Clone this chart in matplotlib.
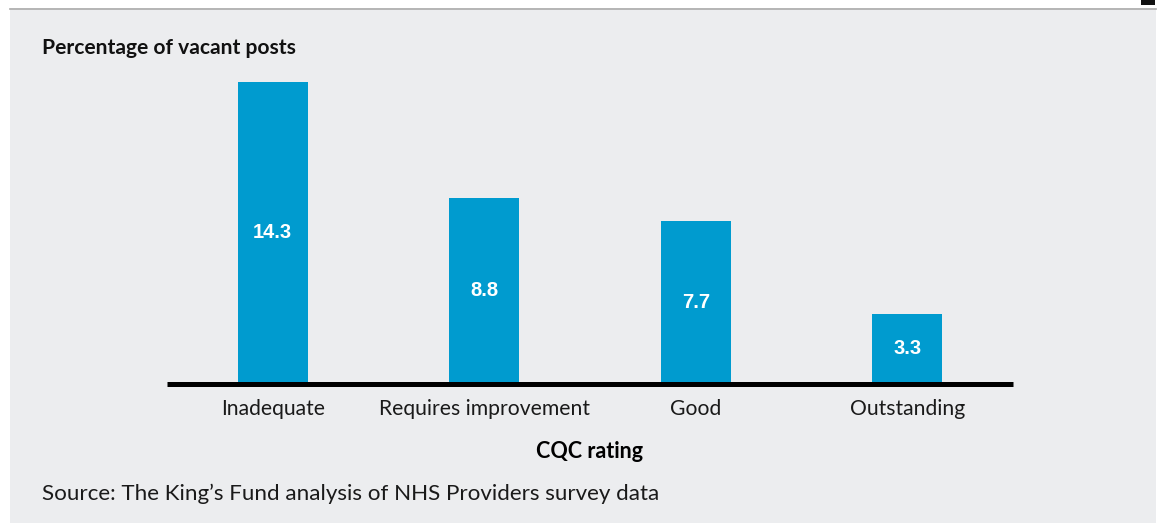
import matplotlib.pyplot as plt
from matplotlib.patches import Rectangle

plt.rcParams['font.family'] = ['Lato', 'DejaVu Sans']

# Vacancy rate by CQC rating
ratings = ['Inadequate', 'Requires improvement', 'Good', 'Outstanding']
vacancy_pct = [14.3, 8.8, 7.7, 3.3]

fig = plt.figure(figsize=(11.58, 5.23), dpi=100)
fig.patch.set_facecolor('white')

W, H = 1158, 523
# grey panel behind the chart
fig.patches.append(Rectangle((10 / W, 0), 1146 / W, (H - 10) / H,
                             transform=fig.transFigure, facecolor='#ECEDEF',
                             edgecolor='none', zorder=-5))
# rule under the heading
fig.add_artist(plt.Line2D([10 / W, 1156 / W], [(H - 9) / H] * 2,
                          transform=fig.transFigure, color='#A8A8A8', lw=1.2))
fig.patches.append(Rectangle((1141 / W, (H - 5) / H), 14 / W, 5 / H,
                             transform=fig.transFigure, facecolor='#111111',
                             edgecolor='none'))

# axes placed so the baseline sits at y=383px
ymax = 15
px_per_unit = 21.05
ax_bottom = (H - 383.5) / H
ax_height = ymax * px_per_unit / H
ax = fig.add_axes([167 / W, ax_bottom, 846 / W, ax_height])
ax.set_facecolor('none')

x = range(len(ratings))
bars = ax.bar(x, vacancy_pct, width=0.33, color='#009BCF', zorder=2)
for xi, v in zip(x, vacancy_pct):
    ax.text(xi, v / 2, f'{v}', ha='center', va='center', color='white',
            fontsize=14.5, fontweight='bold',
            family=['Liberation Sans', 'DejaVu Sans'])

ax.set_xlim(-0.5, 3.5)
ax.set_ylim(0, ymax)
ax.set_yticks([])
ax.set_xticks(list(x))
ax.set_xticklabels(ratings, fontsize=15.2, color='#1a1a1a')
ax.tick_params(axis='x', length=0, pad=11)
for side in ['top', 'right', 'left']:
    ax.spines[side].set_visible(False)
ax.spines['bottom'].set_linewidth(3.6)
ax.spines['bottom'].set_color('black')
ax.spines['bottom'].set_capstyle('butt')
ax.spines['bottom'].set_zorder(3)

ax.set_xlabel('CQC rating', fontsize=15.5, fontweight='bold', labelpad=16)

fig.text(42 / W, (H - 48) / H, 'Percentage of vacant posts', fontsize=15.1,
         fontweight='bold', va='center', ha='left', color='#111111')
fig.text(42 / W, (H - 494) / H,
         'Source: The King\u2019s Fund analysis of NHS Providers survey data',
         fontsize=16.1, va='center', ha='left', color='#1a1a1a')

fig.savefig('out.png', dpi=100, facecolor=fig.get_facecolor())
